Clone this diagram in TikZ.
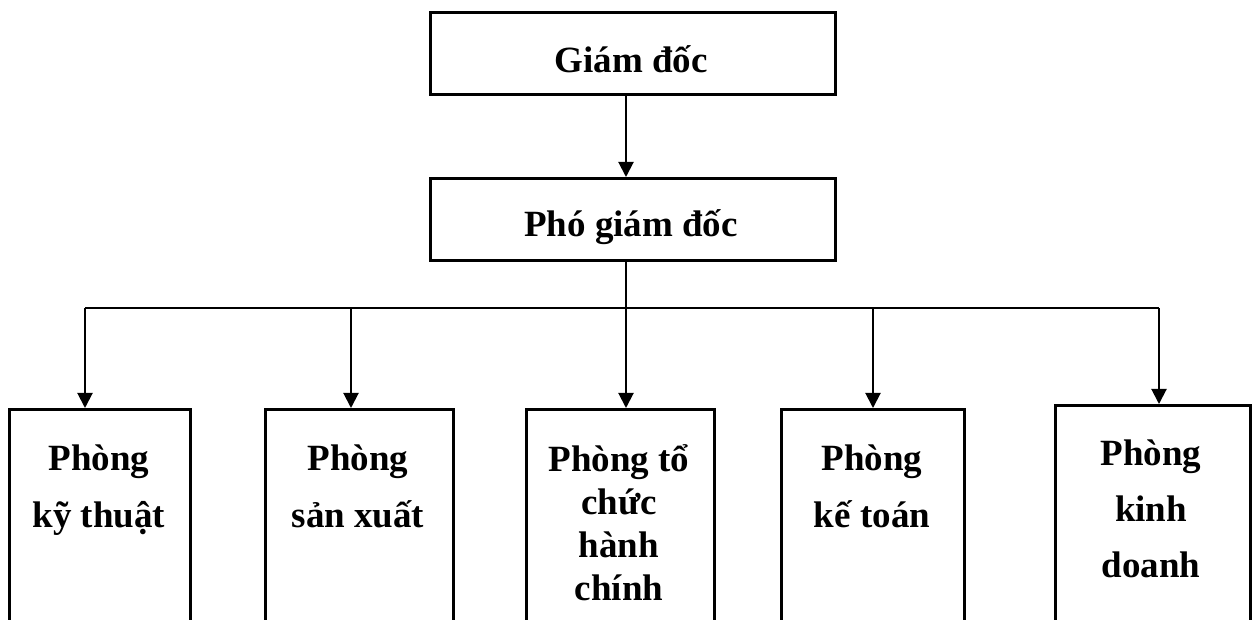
\documentclass[tikz,border=0pt]{standalone}
\usepackage{fontspec}
\setmainfont{Liberation Serif}
\usetikzlibrary{arrows.meta}
\begin{document}
\begin{tikzpicture}[x=1pt,y=-1pt,
  box/.style={draw=black,line width=2.6pt,fill=white,inner sep=0pt,anchor=north west},
  lbl/.style={font=\bfseries\fontsize{37}{57}\selectfont,align=center,anchor=base,inner sep=0pt},
  link/.style={line width=2pt,-{Triangle[length=15pt,width=15pt]}},
  wire/.style={line width=1.6pt}]
\useasboundingbox (0,0) rectangle (1254,620);
\clip (0,0) rectangle (1254,620);

% top management
\node[box,minimum width=405pt,minimum height=82pt] (gd) at (429,11) {};
\node[lbl] (gdt) at (631,73) {Giám đốc};
\node[box,minimum width=405pt,minimum height=82pt] (pgd) at (429,177) {};
\node[lbl] (pgdt) at (631,237) {Phó giám đốc};

% departments (boxes run past the lower edge)
\node[box,minimum width=181pt,minimum height=240pt] (d1) at (8,408) {};
\node[box,minimum width=188pt,minimum height=240pt] (d2) at (264,408) {};
\node[box,minimum width=188pt,minimum height=240pt] (d3) at (525,408) {};
\node[box,minimum width=183pt,minimum height=240pt] (d4) at (780,408) {};
\node[box,minimum width=195pt,minimum height=240pt] (d5) at (1054,404) {};

% labels are placed by the baseline of their last line
\node[lbl] (t1) at (99,527) {Phòng\\kỹ thuật};
\node[lbl] (t2) at (358,527) {Phòng\\sản xuất};
\node[lbl,font=\bfseries\fontsize{37}{43}\selectfont] (t3) at (619,600) {Phòng tổ\\chức\\hành\\chính};
\node[lbl] (t4) at (872,527) {Phòng\\kế toán};
\node[lbl,font=\bfseries\fontsize{37}{56}\selectfont] (t5) at (1151,577) {Phòng\\kinh\\doanh};

% connectors
\coordinate (bus) at (626,308);
\coordinate (b1) at (85,308);
\coordinate (b2) at (351,308);
\coordinate (b3) at (626,308);
\coordinate (b4) at (873,308);
\coordinate (b5) at (1159,308);

\draw[link] (gd.south -| bus) -- (pgd.north -| bus);
\draw[wire] (pgd.south -| bus) -- (bus);
\draw[wire] (b1) -- (b5);
\draw[link] (b1) -- (b1 |- d1.north);
\draw[link] (b2) -- (b2 |- d2.north);
\draw[link] (b3) -- (b3 |- d3.north);
\draw[link] (b4) -- (b4 |- d4.north);
\draw[link] (b5) -- (b5 |- d5.north);
\end{tikzpicture}
\end{document}
